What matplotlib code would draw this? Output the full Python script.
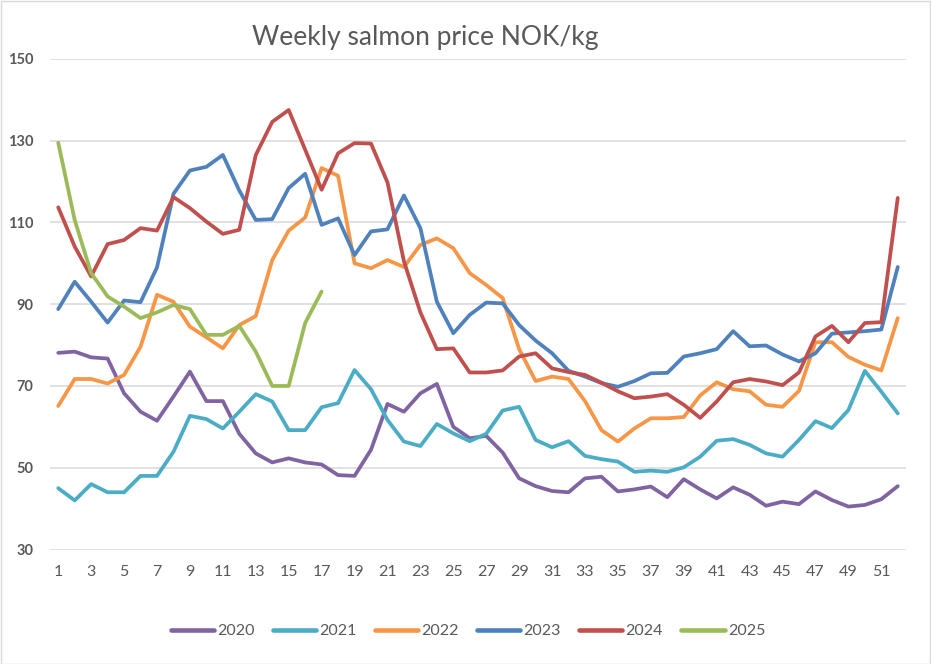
import matplotlib
matplotlib.use("Agg")
import matplotlib.pyplot as plt
from matplotlib.patches import Rectangle

plt.rcParams["font.family"] = ["Lato", "DejaVu Sans"]

weeks = list(range(1, 53))

y2020 = [78.1, 78.4, 77.0, 76.7, 68.2, 63.7, 61.5, 67.4, 73.5, 66.3, 66.3, 58.3, 53.5,
         51.3, 52.3, 51.3, 50.8, 48.2, 48.0, 54.4, 65.6, 63.7, 68.2, 70.5, 60.0, 57.2,
         57.8, 53.7, 47.4, 45.5, 44.3, 44.0, 47.4, 47.8, 44.2, 44.7, 45.4, 42.8, 47.2,
         44.7, 42.5, 45.2, 43.4, 40.7, 41.7, 41.1, 44.2, 42.1, 40.5, 40.9, 42.3, 45.5]
y2021 = [45.0, 42.0, 46.0, 44.0, 44.0, 48.0, 48.0, 53.9, 62.7, 61.9, 59.6, 63.7, 68.0,
         66.2, 59.2, 59.2, 64.8, 65.8, 73.9, 69.2, 61.7, 56.4, 55.3, 60.7, 58.4, 56.5,
         58.3, 64.0, 64.9, 56.8, 55.0, 56.5, 52.9, 52.1, 51.5, 49.0, 49.3, 49.0, 50.1,
         52.7, 56.6, 57.0, 55.6, 53.5, 52.7, 56.8, 61.4, 59.7, 64.1, 73.7, 68.6, 63.3]
y2022 = [65.1, 71.7, 71.7, 70.6, 72.7, 79.6, 92.3, 90.6, 84.5, 81.9, 79.2, 84.9, 87.1,
         100.8, 108.0, 111.2, 123.3, 121.4, 100.0, 98.8, 100.8, 99.1, 104.5, 106.1, 103.7,
         97.6, 94.7, 91.5, 79.0, 71.2, 72.3, 71.7, 66.3, 59.2, 56.4, 59.6, 62.1, 62.1,
         62.4, 67.7, 70.9, 69.2, 68.7, 65.4, 64.9, 68.8, 80.7, 80.7, 77.1, 75.2, 73.8, 86.6]
y2023 = [88.8, 95.5, 90.6, 85.5, 90.9, 90.5, 99.0, 117.0, 122.7, 123.6, 126.5, 117.8,
         110.6, 110.8, 118.4, 121.9, 109.4, 111.0, 102.0, 107.8, 108.3, 116.6, 108.6, 90.6,
         82.9, 87.4, 90.4, 90.2, 84.9, 81.1, 78.0, 73.7, 72.3, 70.7, 69.8, 71.2, 73.1, 73.2,
         77.2, 78.0, 79.0, 83.4, 79.7, 79.9, 77.7, 76.0, 78.0, 82.8, 83.1, 83.4, 83.8, 99.1]
y2024 = [113.7, 104.1, 96.8, 104.7, 105.7, 108.6, 108.0, 116.2, 113.5, 110.2, 107.2,
         108.2, 126.5, 134.6, 137.5, 127.8, 118.0, 126.9, 129.4, 129.3, 119.8, 100.5, 88.0,
         79.0, 79.2, 73.3, 73.3, 73.8, 77.2, 78.0, 74.3, 73.4, 72.7, 70.8, 68.7, 67.0, 67.4,
         68.0, 65.4, 62.2, 66.2, 70.9, 71.7, 71.1, 70.2, 73.3, 82.1, 84.7, 80.7, 85.4, 85.6,
         116.0]
y2025 = [129.5, 110.6, 97.6, 91.9, 89.4, 86.6, 88.0, 89.8, 88.8, 82.5, 82.5, 84.7, 78.4,
         70.0, 70.0, 85.4, 93.1]

series = [
    ("2020", y2020, "#8064A2"),
    ("2021", y2021, "#4BACC6"),
    ("2022", y2022, "#F79646"),
    ("2023", y2023, "#4F81BD"),
    ("2024", y2024, "#C0504D"),
    ("2025", y2025, "#9BBB59"),
]

fig = plt.figure(figsize=(9.31, 6.64), dpi=100)
ax = fig.add_axes([50 / 931, 1 - 549.5 / 664, 856 / 931, 490.6 / 664])

for name, vals, color in series:
    ax.plot(weeks[:len(vals)], vals, color=color, lw=2.7, label=name,
            solid_joinstyle="round", solid_capstyle="round")

ax.set_xlim(0.5, 52.5)
ax.set_ylim(30, 150)
ax.set_yticks(range(30, 151, 20))
ax.set_xticks(range(1, 53, 2))
ax.grid(axis="y", color="#D9D9D9", lw=1.1)
ax.set_axisbelow(True)
for s in ax.spines.values():
    s.set_visible(False)
ax.tick_params(axis="both", length=0, colors="#595959")
ax.tick_params(axis="x", pad=11, labelsize=11.5)
ax.tick_params(axis="y", pad=12, labelsize=10.5)
for lab in ax.get_yticklabels():
    lab.set_fontweight("bold")

fig.text(425 / 931, 1 - 45 / 664, "Weekly salmon price NOK/kg", ha="center", va="baseline",
         fontsize=19, color="#595959")

leg = fig.legend(loc="center", bbox_to_anchor=(468 / 931, 1 - 631 / 664), ncol=6,
                 frameon=False, fontsize=11.5, handlelength=2.7, handletextpad=0.2,
                 columnspacing=1.15)
for t in leg.get_texts():
    t.set_color("#595959")
for h in leg.get_lines():
    h.set_linewidth(3.3)
    h.set_solid_capstyle("round")

fig.patches.append(Rectangle((0.5 / 931, 0.5 / 664), 1 - 1.5 / 931, 1 - 1.5 / 664,
                             transform=fig.transFigure, fill=False,
                             edgecolor="#D9D9D9", lw=1.0))

fig.savefig("out.png", dpi=100)
